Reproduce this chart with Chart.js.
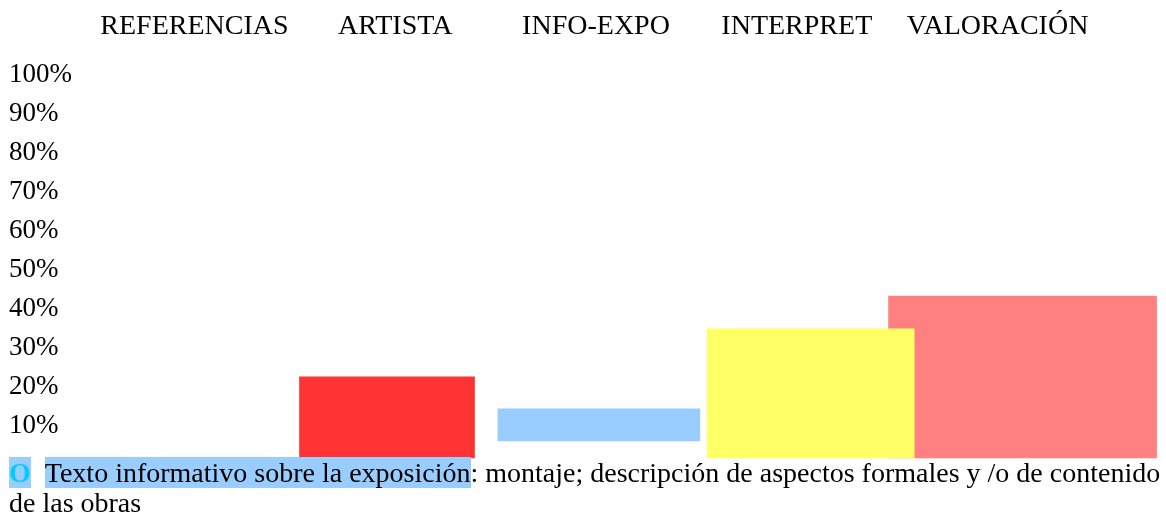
<!DOCTYPE html>
<html>
<head>
<meta charset="utf-8">
<script src="https://cdn.jsdelivr.net/npm/chart.js@4/dist/chart.umd.min.js"></script>
<style>
  html, body { margin: 0; padding: 0; background: #fff; }
  #wrap { position: relative; width: 1166px; height: 519px; overflow: hidden; }
  #chart { position: absolute; left: 0; top: 0; }
  #note {
    position: absolute; left: 9px; top: 458px;
    font-family: "Liberation Serif", serif; font-size: 28px; line-height: 30px;
    color: #000; white-space: nowrap;
  }
  #note .mark { font-weight: bold; color: #00ccff; background: #99ccff; margin-right: 14px; }
  #note .hl { background: #99ccff; }
</style>
</head>
<body>
<div id="wrap">
  <canvas id="chart" width="1166" height="519"></canvas>
  <div id="note"><span class="mark">O</span><span class="hl">Texto informativo sobre la exposición</span>: montaje; descripción de aspectos formales y /o de contenido<br>de las obras</div>
</div>
<script>
// values (percent)
const categories = ["REFERENCIAS", "ARTISTA", "INFO-EXPO", "INTERPRET", "VALORACIÓN"]
const barLow = [null, 1.8, 6.2, 1.8, 1.8]
const barHigh = [null, 22.6, 14.4, 34.9, 43.3]
const yTickLabels = ["", "10%", "20%", "30%", "40%", "50%", "60%", "70%", "80%", "90%", "100%"]

// styles
const barColors = [null, "#ff3333", "#99ccff", "#ffff66", "#ff8080"]
const barWidths = [0, 175, 202, 207, 268]

Chart.defaults.font.family = "'Liberation Serif', 'Times New Roman', serif"
Chart.defaults.color = "#000"

// one dataset per category so every bar can keep its own width
const datasets = []
categories.forEach((cat, i) => {
  if (barHigh[i] == null) return
  datasets.push({
    label: cat,
    xAxisID: "xb",
    data: [{ x: i, y: [barLow[i], barHigh[i]] }],
    backgroundColor: barColors[i],
    borderWidth: 0,
    barThickness: barWidths[i],
    grouped: false,
    clip: false,
  })
})

new Chart(document.getElementById("chart"), {
  type: "bar",
  data: { labels: categories, datasets },
  options: {
    responsive: false,
    animation: false,
    layout: { padding: { left: 9, right: 68, top: 0, bottom: 54 } },
    plugins: { legend: { display: false }, tooltip: { enabled: false } },
    scales: {
      x: {
        type: "category",
        position: "top",
        grid: { display: false, drawTicks: false },
        border: { display: false },
        ticks: { font: { size: 28 }, padding: 32, maxRotation: 0, autoSkip: false },
        afterFit: (axis) => { axis.height = 75 },
      },
      // the bars sit a little wider apart than the headings in the original
      xb: {
        type: "linear",
        display: false,
        offset: false,
        min: -0.383,
        max: 4.356,
      },
      y: {
        min: 0,
        max: 100,
        grid: { display: false, drawTicks: false },
        border: { display: false },
        ticks: {
          stepSize: 10,
          crossAlign: "far",
          font: { size: 27 },
          callback: (v, i) => yTickLabels[i],
        },
        afterFit: (axis) => { axis.width = 85 },
      },
    },
  },
})
</script>
</body>
</html>
